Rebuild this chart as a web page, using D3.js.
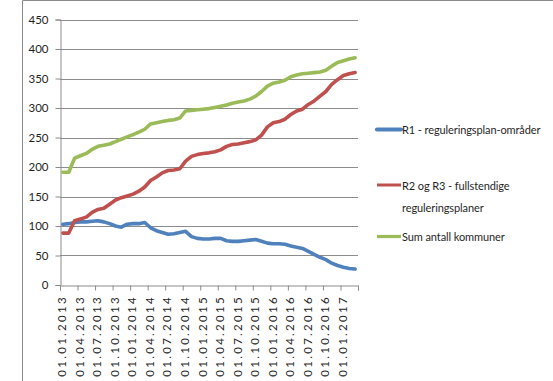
<!DOCTYPE html>
<html>
<head>
<meta charset="utf-8">
<script src="https://cdn.jsdelivr.net/npm/d3@7"></script>
<style>
  html, body { margin: 0; padding: 0; background: #fff; }
  svg { display: block; }
  text { font-family: Lato, "Open Sans", sans-serif; fill: #1f1f1f; }
</style>
</head>
<body>
<svg id="chart" width="553" height="381"></svg>
<script>
// Monthly counts, January 2013 – March 2017
const monthStart = new Date(2013, 0, 1);
const monthEnd = new Date(2017, 3, 1);
const months = d3.timeMonth.range(monthStart, monthEnd);

const r1 = [103, 104, 106, 107, 107, 108, 109, 107, 104, 100, 98, 103, 104, 104, 106, 97, 92, 89, 86, 87,
            89, 91, 82, 79, 78, 78, 79, 79, 75, 74, 74, 75, 76, 77, 74, 71, 70, 70, 69, 66,
            64, 62, 57, 52, 47, 43, 37, 33, 30, 28, 27];
const r2r3 = [88, 88, 109, 112, 115, 123, 128, 130, 137, 144, 148, 151, 154, 159, 166, 177, 183, 190, 194, 195,
              197, 210, 218, 221, 223, 224, 226, 229, 235, 238, 239, 241, 243, 246, 254, 268, 275, 277, 281, 289,
              295, 298, 306, 312, 320, 328, 340, 348, 355, 358, 360];
const total = [191, 191, 215, 219, 223, 230, 235, 237, 239, 243, 247, 251, 255, 259, 264, 273, 275, 277, 279, 280,
               283, 295, 296, 297, 298, 299, 301, 303, 305, 308, 310, 312, 315, 320, 328, 337, 342, 344, 347, 353,
               356, 358, 359, 360, 361, 364, 371, 377, 380, 383, 385];

const seriesNames = ["R1 - reguleringsplan-områder", "R2 og R3 - fullstendige reguleringsplaner", "Sum antall kommuner"];
const seriesColors = ["#4f81bd", "#c0504d", "#9bbb59"];
const yTicks = [0, 50, 100, 150, 200, 250, 300, 350, 400, 450];
const xTickLabels = ["01.01.2013", "01.04.2013", "01.07.2013", "01.10.2013",
                     "01.01.2014", "01.04.2014", "01.07.2014", "01.10.2014",
                     "01.01.2015", "01.04.2015", "01.07.2015", "01.10.2015",
                     "01.01.2016", "01.04.2016", "01.07.2016", "01.10.2016",
                     "01.01.2017"];

const series = [r1, r2r3, total];

const svg = d3.select("#chart");

// outer frame
svg.append("path")
  .attr("d", "M22.5,381 V0.5 H553")
  .attr("fill", "none")
  .attr("stroke", "#8a8a8a")
  .attr("stroke-width", 1);

const plot = { left: 60, right: 358, top: 19.5, bottom: 285 };

// each month occupies one equal slot; points sit in the middle of their slot
const x = d3.scaleLinear().domain([0, months.length]).range([plot.left, plot.right]);
const y = d3.scaleLinear().domain([0, 450]).range([plot.bottom, plot.top]);

// horizontal gridlines
svg.append("g")
  .selectAll("line")
  .data(yTicks.filter(d => d > 0))
  .join("line")
  .attr("x1", plot.left).attr("x2", plot.right)
  .attr("y1", d => Math.round(y(d)) + 0.5).attr("y2", d => Math.round(y(d)) + 0.5)
  .attr("stroke", "#8c8c8c").attr("stroke-width", 1.2);

// y axis
svg.append("g")
  .attr("transform", `translate(${plot.left + 0.5},0)`)
  .call(d3.axisLeft(y).tickValues(yTicks).tickSize(5).tickPadding(7))
  .call(g => g.selectAll("line").attr("stroke", "#8c8c8c"))
  .call(g => g.select(".domain").attr("stroke", "#8c8c8c"))
  .call(g => g.selectAll("text").attr("font-size", 11.5).style("font-family", "Lato, sans-serif").attr("fill", "#1f1f2f"));

// x axis: a tick at every quarter boundary
const quarterIdx = d3.range(0, months.length + 1, 3);
svg.append("g")
  .attr("transform", `translate(0,${Math.round(plot.bottom) + 0.5})`)
  .call(d3.axisBottom(x).tickValues(quarterIdx).tickSize(5).tickFormat(""))
  .call(g => g.selectAll("line").attr("stroke", "#8c8c8c"))
  .call(g => g.select(".domain").attr("stroke", "#8c8c8c"));

// rotated quarter labels
svg.append("g")
  .selectAll("text")
  .data(xTickLabels)
  .join("text")
  .attr("transform", (d, i) => `translate(${x(i * 3) + 1.8},295) rotate(-90)`)
  .attr("text-anchor", "end")
  .attr("dominant-baseline", "central")
  .attr("font-size", 11.5)
  .attr("letter-spacing", 2.3)
  .text(d => d);

// series lines
const line = d3.line()
  .x((d, i) => x(i + 0.5))
  .y(d => y(d))
  .curve(d3.curveLinear);

svg.append("g")
  .selectAll("path")
  .data(series)
  .join("path")
  .attr("d", d => line(d))
  .attr("fill", "none")
  .attr("stroke", (d, i) => seriesColors[i])
  .attr("stroke-width", 3.6)
  .attr("stroke-linejoin", "round")
  .attr("stroke-linecap", "round");

// legend
const legendRows = [
  { lines: ["R1 - reguleringsplan-områder"], cy: 129.5, w: 4.2 },
  { lines: ["R2 og R3 - fullstendige", "reguleringsplaner"], cy: 185, w: 3 },
  { lines: ["Sum antall kommuner"], cy: 236.5, w: 3.2 }
];
const legend = svg.append("g");
legendRows.forEach((row, i) => {
  legend.append("line")
    .attr("x1", 377).attr("x2", 401)
    .attr("y1", row.cy).attr("y2", row.cy)
    .attr("stroke", seriesColors[i])
    .attr("stroke-width", row.w)
    .attr("stroke-linecap", i === 0 ? "round" : "butt");
  row.lines.forEach((t, k) => {
    legend.append("text")
      .attr("x", 402)
      .attr("y", row.cy + k * 22)
      .attr("dominant-baseline", "central")
      .attr("font-size", 11)
      .attr("letter-spacing", -0.1)
      .text(t);
  });
});
</script>
</body>
</html>
